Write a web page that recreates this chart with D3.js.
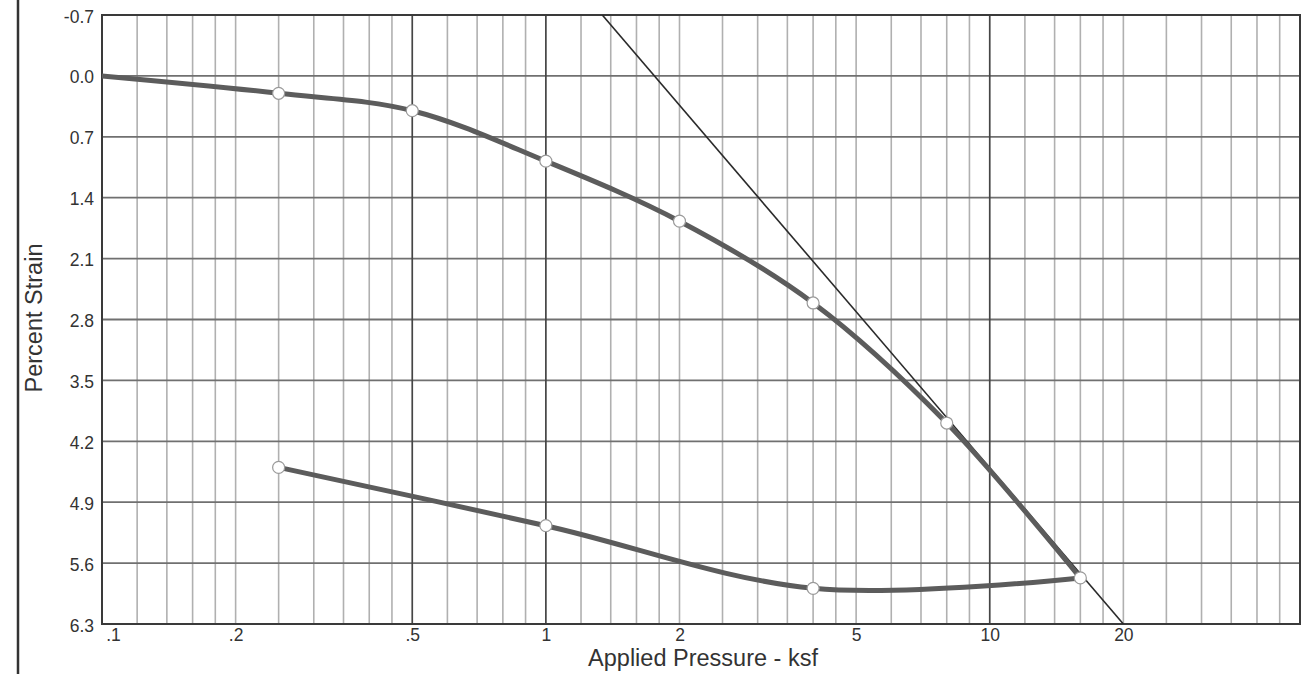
<!DOCTYPE html>
<html>
<head>
<meta charset="utf-8">
<script src="https://cdn.jsdelivr.net/npm/d3@7"></script>
<style>
  html, body { margin: 0; padding: 0; background: #fff; }
  svg { display: block; font-family: "Liberation Sans", Arial, sans-serif; }
</style>
</head>
<body>
<svg id="chart" width="1314" height="674"></svg>
<script>
// ---- data ----
const loadPressure = [0.1, 0.25, 0.5, 1, 2, 4, 8, 16];
const loadStrain   = [0.0, 0.20, 0.40, 0.98, 1.67, 2.61, 3.99, 5.77];
const loadMarked   = [false, true, true, true, true, true, true, true];

const unloadPressure = [16, 4, 1, 0.25];
const unloadStrain   = [5.77, 5.89, 5.17, 4.50];

const tangentPressure = [1.34, 20];
const tangentStrain   = [-0.7, 6.3];

const xTickValues = [0.1, 0.2, 0.5, 1, 2, 5, 10, 20];
const xTickLabels = [".1", ".2", ".5", "1", "2", "5", "10", "20"];
const yTickValues = [-0.7, 0.0, 0.7, 1.4, 2.1, 2.8, 3.5, 4.2, 4.9, 5.6, 6.3];
const yTickLabels = ["-0.7", "0.0", "0.7", "1.4", "2.1", "2.8", "3.5", "4.2", "4.9", "5.6", "6.3"];
const xMinorGrid = [0.12,0.14,0.16,0.18,0.2,0.25,0.3,0.35,0.4,0.45,0.6,0.7,0.8,0.9,
                    1.2,1.4,1.6,1.8,2,2.5,3,3.5,4,4.5,5,6,7,8,9,
                    12,14,16,18,20,25,30,35,40,45];
const xMajorGrid = [0.5, 1, 10];
const xDomain = [0.1, 50];
const yDomain = [-0.7, 6.3];

// ---- layout ----
const svg = d3.select("#chart");
const L = 102, R = 1300, T = 15, B = 624;

const x = d3.scaleLog().domain(xDomain).range([L, R]);
const y = d3.scaleLinear().domain(yDomain).range([T, B]);

// outer left rule
svg.append("line").attr("x1", 18).attr("x2", 18).attr("y1", 0).attr("y2", 674)
  .attr("stroke", "#333").attr("stroke-width", 2.5);

// clip
svg.append("defs").append("clipPath").attr("id", "plotclip")
  .append("rect").attr("x", L).attr("y", T).attr("width", R - L).attr("height", B - T);

const grid = svg.append("g");
grid.selectAll("line.minor").data(xMinorGrid).join("line").attr("class", "minor")
  .attr("x1", d => x(d)).attr("x2", d => x(d)).attr("y1", T).attr("y2", B)
  .attr("stroke", "#b0b0b0").attr("stroke-width", 1.6);
grid.selectAll("line.h").data(yTickValues).join("line").attr("class", "h")
  .attr("x1", L).attr("x2", R).attr("y1", d => y(d)).attr("y2", d => y(d))
  .attr("stroke", "#707070").attr("stroke-width", 1.8);
grid.selectAll("line.major").data(xMajorGrid).join("line").attr("class", "major")
  .attr("x1", d => x(d)).attr("x2", d => x(d)).attr("y1", T).attr("y2", B)
  .attr("stroke", "#454545").attr("stroke-width", 1.7);

// axes (labels only)
const xAxis = d3.axisBottom(x).tickValues(xTickValues)
  .tickFormat((d, i) => xTickLabels[i]).tickSize(0).tickPadding(0);
const gx = svg.append("g").attr("transform", `translate(0,${B})`).call(xAxis);
gx.select(".domain").remove();
gx.selectAll("text").attr("font-size", 17.5).attr("fill", "#333")
  .attr("font-family", "Liberation Sans, Arial, sans-serif")
  .attr("dy", null).attr("y", 17)
  .attr("dx", (d) => d === 0.1 ? 11 : 0);

const yAxis = d3.axisLeft(y).tickValues(yTickValues)
  .tickFormat((d, i) => yTickLabels[i]).tickSize(0).tickPadding(8);
const gy = svg.append("g").attr("transform", `translate(${L},0)`).call(yAxis);
gy.select(".domain").remove();
gy.selectAll("text").attr("font-size", 17.5).attr("fill", "#333")
  .attr("font-family", "Liberation Sans, Arial, sans-serif")
  .attr("dy", "0.4em");

// border
svg.append("rect").attr("x", L).attr("y", T).attr("width", R - L).attr("height", B - T)
  .attr("fill", "none").attr("stroke", "#3a3a3a").attr("stroke-width", 2);

const plot = svg.append("g").attr("clip-path", "url(#plotclip)");

// tangent line
const tangentData = tangentPressure.map((p, i) => ({ p, s: tangentStrain[i] }));
plot.append("path").datum(tangentData)
  .attr("d", d3.line().x(d => x(d.p)).y(d => y(d.s)))
  .attr("fill", "none").attr("stroke", "#2a2a2a").attr("stroke-width", 1.6);

// curves
const curveLine = d3.line().x(d => x(d.p)).y(d => y(d.s)).curve(d3.curveCatmullRom.alpha(0.5));
const loadData = loadPressure.map((p, i) => ({ p, s: loadStrain[i], m: loadMarked[i] }));
const unloadData = unloadPressure.map((p, i) => ({ p, s: unloadStrain[i], m: true }));

plot.append("path").datum(loadData).attr("d", curveLine)
  .attr("fill", "none").attr("stroke", "#5c5c5c").attr("stroke-width", 5)
  .attr("stroke-linecap", "round");
plot.append("path").datum(unloadData).attr("d", curveLine)
  .attr("fill", "none").attr("stroke", "#5c5c5c").attr("stroke-width", 5)
  .attr("stroke-linecap", "round");

// markers
const markers = loadData.filter(d => d.m).concat(unloadData.filter(d => d.p !== 16));
plot.selectAll("circle").data(markers).join("circle")
  .attr("cx", d => x(d.p)).attr("cy", d => y(d.s)).attr("r", 6)
  .attr("fill", "#fff").attr("stroke", "#9a9a9a").attr("stroke-width", 1.2);

// axis titles
svg.append("text").attr("x", 703).attr("y", 666).attr("text-anchor", "middle")
  .attr("font-size", 23.5).attr("fill", "#333").text("Applied Pressure - ksf");
svg.append("text").attr("transform", "translate(42,318) rotate(-90)")
  .attr("text-anchor", "middle").attr("font-size", 23.5).attr("fill", "#333")
  .text("Percent Strain");
</script>
</body>
</html>
